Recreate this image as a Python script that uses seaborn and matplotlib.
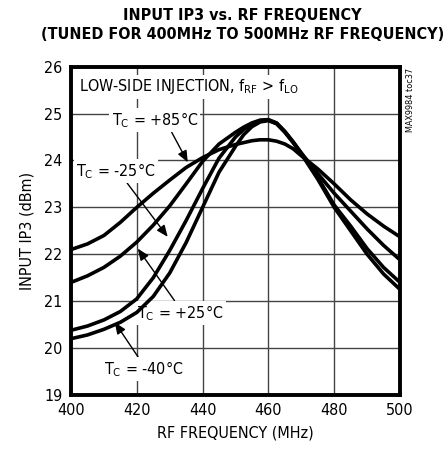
import numpy as np
import pandas as pd
import matplotlib
matplotlib.use("Agg")
import matplotlib.pyplot as plt
import seaborn as sns

# ---- data ----
freq = [400, 405, 410, 415, 420, 425, 430, 435, 440, 445, 450, 452.5, 455, 457.5,
        460, 462.5, 465, 467.5, 470, 475, 480, 485, 490, 495, 500]
ip3_p85 = [22.10, 22.22, 22.40, 22.68, 23.00, 23.30, 23.58, 23.85, 24.06, 24.23, 24.34, 24.38, 24.42, 24.44,
           24.44, 24.41, 24.35, 24.25, 24.10, 23.82, 23.50, 23.16, 22.86, 22.60, 22.37]
ip3_p25 = [21.40, 21.54, 21.72, 21.96, 22.26, 22.62, 23.03, 23.50, 23.98, 24.35, 24.60, 24.71, 24.80, 24.86,
           24.87, 24.80, 24.62, 24.40, 24.16, 23.72, 23.30, 22.92, 22.54, 22.19, 21.88]
ip3_m25 = [20.38, 20.47, 20.60, 20.78, 21.05, 21.50, 22.08, 22.72, 23.40, 24.05, 24.50, 24.66, 24.77, 24.84,
           24.86, 24.79, 24.61, 24.39, 24.15, 23.64, 23.05, 22.60, 22.12, 21.72, 21.40]
ip3_m40 = [20.20, 20.28, 20.40, 20.55, 20.76, 21.10, 21.60, 22.25, 23.00, 23.75, 24.30, 24.55, 24.72, 24.82,
           24.85, 24.78, 24.60, 24.38, 24.14, 23.60, 23.00, 22.50, 22.00, 21.58, 21.25]
series_names = ["+85", "+25", "-25", "-40"]

x_ticks = [400, 420, 440, 460, 480, 500]
y_ticks = [19, 20, 21, 22, 23, 24, 25, 26]

title = "INPUT IP3 vs. RF FREQUENCY\n(TUNED FOR 400MHz TO 500MHz RF FREQUENCY)"
xlabel = "RF FREQUENCY (MHz)"
ylabel = "INPUT IP3 (dBm)"
note = "LOW-SIDE INJECTION, f$_{RF}$ > f$_{LO}$"
tag = "MAX9984 toc37"

# ---- style ----
sns.set_style("white")
plt.rcParams["font.family"] = ["DejaVu Sans"]
plt.rcParams["font.stretch"] = "condensed"
plt.rcParams["mathtext.default"] = "regular"
for k in ["text.color", "axes.labelcolor", "xtick.color", "ytick.color"]:
    plt.rcParams[k] = "black"

fig = plt.figure(figsize=(4.44, 4.58), dpi=100)
ax = fig.add_axes([71/444, 1 - 395/458, (400 - 71)/444, (395 - 66.6)/458])

df = pd.DataFrame({"freq": freq * 4,
                   "ip3": ip3_p85 + ip3_p25 + ip3_m25 + ip3_m40,
                   "temp": sum([[n] * len(freq) for n in series_names], [])})
sns.lineplot(data=df, x="freq", y="ip3", hue="temp", palette=["black"] * 4,
             linewidth=2.6, legend=False, ax=ax, zorder=5, sort=False)

ax.set_xlim(400, 500)
ax.set_ylim(19, 26)
ax.set_xticks(x_ticks)
ax.set_yticks(y_ticks)
ax.tick_params(length=0, labelsize=11.5, pad=6)
ax.grid(True, color="#444444", linewidth=1.0, zorder=0)
ax.set_axisbelow(True)
for s in ax.spines.values():
    s.set_linewidth(2.8)
    s.set_color("black")

ax.set_xlabel(xlabel, fontsize=11.5, labelpad=5)
ax.set_ylabel(ylabel, fontsize=11.5, labelpad=7)

fig.text(0.546, 0.983, title, ha="center", va="top", fontsize=11.5,
         fontweight="bold", linespacing=1.35)

bbox = dict(boxstyle="square,pad=0.15", fc="white", ec="none")
ax.text(402.5, 25.57, note, fontsize=11.5, ha="left", va="center", bbox=bbox, zorder=3)

arrow = dict(arrowstyle="-|>,head_length=0.6,head_width=0.25", color="black",
             lw=1.0, shrinkA=0, shrinkB=0)
lab_fs = 11.5
ax.annotate("T$_C$ = +85°C", xy=(435.5, 23.96), xytext=(425.5, 24.86),
            fontsize=lab_fs, ha="center", va="center", bbox=bbox, zorder=3,
            arrowprops=dict(arrow, relpos=(0.68, 0.0)))
ax.annotate("T$_C$ = -25°C", xy=(429.4, 22.37), xytext=(413.6, 23.78),
            fontsize=lab_fs, ha="center", va="center", bbox=bbox, zorder=3,
            arrowprops=dict(arrow, relpos=(0.62, 0.0)))
ax.annotate("T$_C$ = +25°C", xy=(420.3, 22.12), xytext=(433.3, 20.75),
            fontsize=lab_fs, ha="center", va="center", bbox=bbox, zorder=3,
            arrowprops=dict(arrow, relpos=(0.45, 1.0)))
ax.annotate("T$_C$ = -40°C", xy=(413.3, 20.55), xytext=(422.1, 19.55),
            fontsize=lab_fs, ha="center", va="center", bbox=bbox, zorder=3,
            arrowprops=dict(arrow, relpos=(0.45, 1.0)))

fig.text(410/444, 1 - 68/458, tag, rotation=90, ha="center", va="top",
         fontsize=6.5)

fig.savefig("out.png", dpi=100)
